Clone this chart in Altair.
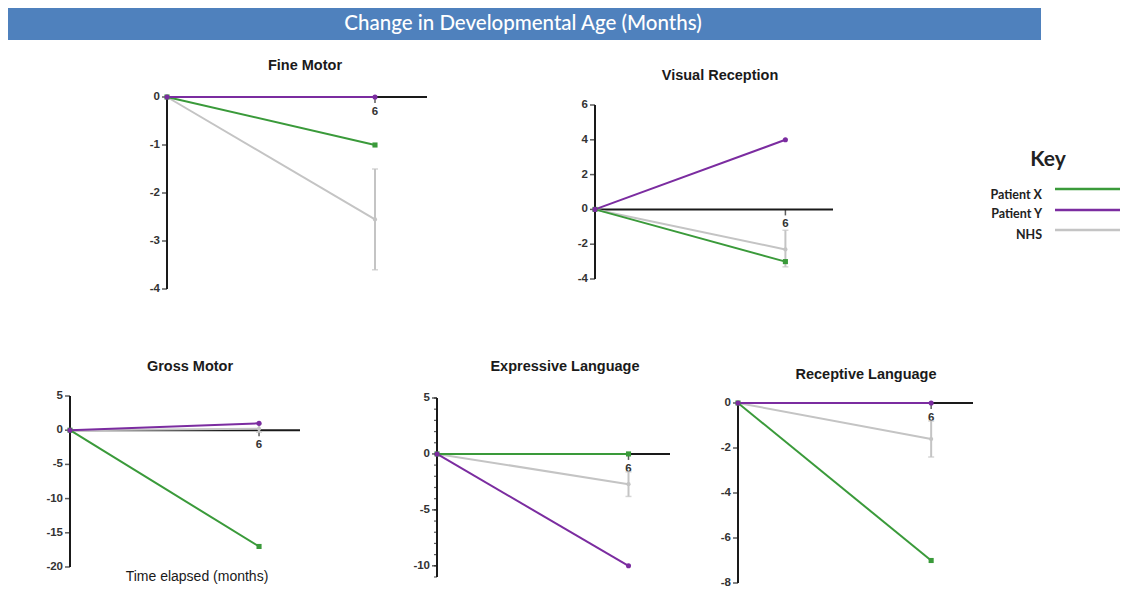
import altair as alt
import pandas as pd

# ---------------- data ----------------
TITLE = "Change in Developmental Age (Months)"
X_TITLE = "Time elapsed (months)"
KEY_TITLE = "Key"
panels = ["Fine Motor", "Visual Reception", "Gross Motor", "Expressive Language", "Receptive Language"]
months = [0, 6]
patient_x = [[0, -1], [0, -3], [0, -17], [0, 0], [0, -7]]
patient_y = [[0, 0], [0, 4], [0, 1], [0, -10], [0, 0]]
nhs = [[0, -2.55], [0, -2.3], [0, 0.2], [0, -2.7], [0, -1.6]]
nhs_low = [-3.6, -3.3, -0.3, -3.8, -2.4]
nhs_high = [-1.5, -1.2, 0.9, -1.6, -0.8]
y_ticks = [[0, -1, -2, -3, -4], [6, 4, 2, 0, -2, -4], [5, 0, -5, -10, -15, -20], [5, 0, -5, -10], [0, -2, -4, -6, -8]]
y_minor = [[], [], [], list(range(-11, 6)), []]
y_extent = [(-4, 0), (-4, 6), (-20, 5), (-11, 5), (-8, 0)]
x_extent = [7.5, 7.5, 7.3, 7.3, 7.3]
x_tick = [6]
key_labels = ["Patient X", "Patient Y", "NHS"]

# ---------------- layout / style ----------------
OFF = 8
FONT = "Liberation Sans, Arial, sans-serif"
HUMAN = "Lato, Open Sans, sans-serif"
BLUE = "#4F81BD"
GREEN = "#3A9A3A"
PURPLE = "#7B2CA0"
GRAY = "#C4C4C4"
AXIS = "#1a1a1a"
TXT = "#333333"

boxes = [
    dict(x=(167, 427), y=(289, 97), title=(305, 66)),
    dict(x=(595, 833), y=(279, 105), title=(720, 76)),
    dict(x=(70, 300), y=(567, 396), title=(190, 367)),
    dict(x=(437, 670), y=(577, 398), title=(565, 367)),
    dict(x=(738, 973), y=(583, 403), title=(866, 375)),
]
key_label_y = [195, 214, 235]
key_line_y = [189, 210, 230]
key_colors = [GREEN, PURPLE, GRAY]

layers = []

# banner
bdf = pd.DataFrame({"t": [TITLE]})
layers.append(alt.Chart(bdf).mark_rect(color=BLUE).encode(
    x=alt.value(0), x2=alt.value(1033), y=alt.value(0), y2=alt.value(32)))
layers.append(alt.Chart(bdf).mark_text(font=HUMAN, fontSize=20.5, fontWeight=500, color="white",
                                       align="center", baseline="middle").encode(
    x=alt.value(523 - OFF), y=alt.value(16), text="t:N"))


def panel(i):
    b = boxes[i]
    xs = alt.Scale(domain=[0, x_extent[i]], range=[b["x"][0] - OFF, b["x"][1] - OFF], nice=False, zero=False)
    ys = alt.Scale(domain=[y_extent[i][0], y_extent[i][1]], range=[b["y"][0] - OFF, b["y"][1] - OFF],
                   nice=False, zero=False)

    def X(f):
        return alt.X(f, type="quantitative", scale=xs, axis=None)

    def Y(f):
        return alt.Y(f, type="quantitative", scale=ys, axis=None)

    out = []
    # y axis line
    d = pd.DataFrame({"x": [0], "y": [y_extent[i][0]], "y2": [y_extent[i][1]]})
    out.append(alt.Chart(d).mark_rule(color=AXIS, strokeWidth=2).encode(x=X("x"), y=Y("y"), y2="y2:Q"))
    # x axis line
    d = pd.DataFrame({"x": [0], "x2": [x_extent[i]], "y": [0]})
    out.append(alt.Chart(d).mark_rule(color=AXIS, strokeWidth=2).encode(x=X("x"), x2="x2:Q", y=Y("y")))
    # minor ticks
    if y_minor[i]:
        d = pd.DataFrame({"x": [0] * len(y_minor[i]), "y": y_minor[i]})
        out.append(alt.Chart(d).mark_tick(orient="horizontal", size=3, thickness=1.2, xOffset=-1.5,
                                          color=AXIS).encode(x=X("x"), y=Y("y")))
    # major ticks + labels
    d = pd.DataFrame({"x": [0] * len(y_ticks[i]), "y": y_ticks[i], "label": [str(t) for t in y_ticks[i]]})
    out.append(alt.Chart(d).mark_tick(orient="horizontal", size=5, thickness=1.5, xOffset=-2.5,
                                      color=AXIS).encode(x=X("x"), y=Y("y")))
    out.append(alt.Chart(d).mark_text(align="right", baseline="middle", dx=-7, font=FONT, fontSize=11.5,
                                      fontWeight="bold", color=TXT).encode(x=X("x"), y=Y("y"), text="label:N"))
    # x tick at 6
    d = pd.DataFrame({"x": x_tick, "y": [0], "label": [str(v) for v in x_tick]})
    out.append(alt.Chart(d).mark_tick(orient="vertical", size=6, thickness=1.5, yOffset=3,
                                      color=AXIS).encode(x=X("x"), y=Y("y")))
    out.append(alt.Chart(d).mark_text(align="center", baseline="middle", dy=15, font=FONT, fontSize=11.5,
                                      fontWeight="bold", color=TXT).encode(x=X("x"), y=Y("y"), text="label:N"))
    # NHS line + error bar
    d = pd.DataFrame({"m": months, "v": nhs[i]})
    out.append(alt.Chart(d).mark_line(color=GRAY, strokeWidth=2).encode(x=X("m"), y=Y("v")))
    e = pd.DataFrame({"m": [months[1]], "lo": [nhs_low[i]], "hi": [nhs_high[i]]})
    out.append(alt.Chart(e).mark_rule(color=GRAY, strokeWidth=2).encode(x=X("m"), y=Y("lo"), y2="hi:Q"))
    c = pd.DataFrame({"m": [months[1]] * 2, "v": [nhs_low[i], nhs_high[i]]})
    out.append(alt.Chart(c).mark_tick(orient="horizontal", size=6, thickness=1.5,
                                      color=GRAY).encode(x=X("m"), y=Y("v")))
    # patient lines
    dx_ = pd.DataFrame({"m": months, "v": patient_x[i]})
    dy_ = pd.DataFrame({"m": months, "v": patient_y[i]})
    out.append(alt.Chart(dx_).mark_line(color=GREEN, strokeWidth=2).encode(x=X("m"), y=Y("v")))
    out.append(alt.Chart(dy_).mark_line(color=PURPLE, strokeWidth=2).encode(x=X("m"), y=Y("v")))
    # points
    out.append(alt.Chart(d).mark_point(filled=True, shape="circle", size=18, color=GRAY,
                                       opacity=1).encode(x=X("m"), y=Y("v")))
    out.append(alt.Chart(dx_).mark_point(filled=True, shape="square", size=26, color=GREEN,
                                         opacity=1).encode(x=X("m"), y=Y("v")))
    out.append(alt.Chart(dy_).mark_point(filled=True, shape="circle", size=26, color=PURPLE,
                                         opacity=1).encode(x=X("m"), y=Y("v")))
    # title
    t = pd.DataFrame({"t": [panels[i]]})
    out.append(alt.Chart(t).mark_text(font=FONT, fontSize=14.5, fontWeight="bold", color=AXIS,
                                      align="center", baseline="middle").encode(
        x=alt.value(b["title"][0] - OFF), y=alt.value(b["title"][1] - OFF), text="t:N"))
    return out


for i in range(len(panels)):
    layers.extend(panel(i))

# x axis title under Gross Motor
layers.append(alt.Chart(pd.DataFrame({"t": [X_TITLE]})).mark_text(
    font=FONT, fontSize=14, color=AXIS, align="center", baseline="middle").encode(
    x=alt.value(197 - OFF), y=alt.value(577 - OFF), text="t:N"))

# key
layers.append(alt.Chart(pd.DataFrame({"t": [KEY_TITLE]})).mark_text(
    font=HUMAN, fontSize=21, fontWeight="bold", color="#222222", align="center", baseline="middle").encode(
    x=alt.value(1048 - OFF), y=alt.value(160 - OFF), text="t:N"))
for lab, ly, ry, col in zip(key_labels, key_label_y, key_line_y, key_colors):
    kd = pd.DataFrame({"t": [lab]})
    layers.append(alt.Chart(kd).mark_text(font=HUMAN, fontSize=12.5, fontWeight="bold", color="#222222",
                                          align="right", baseline="middle").encode(
        x=alt.value(1042 - OFF), y=alt.value(ly - OFF), text="t:N"))
    layers.append(alt.Chart(kd).mark_rule(color=col, strokeWidth=2.5).encode(
        x=alt.value(1055 - OFF), x2=alt.value(1120 - OFF), y=alt.value(ry - OFF)))

chart = alt.layer(*layers).resolve_scale(x="independent", y="independent").properties(
    width=1113, height=582, autosize=alt.AutoSizeParams(type="none"), padding=0
).configure_view(stroke="transparent")

chart.save("out.html", embed_options={"renderer": "svg", "actions": False})
